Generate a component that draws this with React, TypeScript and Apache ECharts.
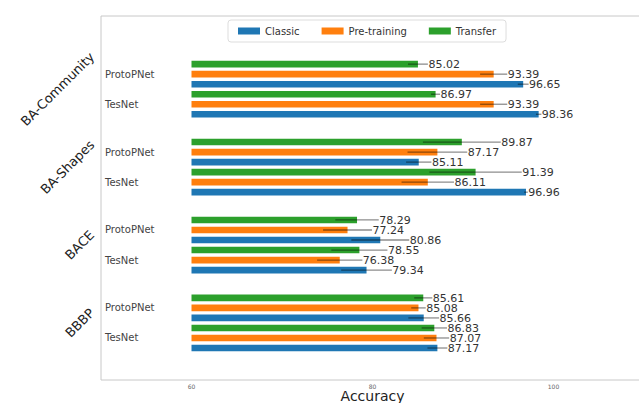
import React, { useEffect, useRef } from "react";
import * as echarts from "echarts";

const DATASETS = ["BA-Community", "BA-Shapes", "BACE", "BBBP"];
const MODELS = ["ProtoPNet", "TesNet"];
// ordered dataset x model: [BA-Community/ProtoPNet, BA-Community/TesNet, BA-Shapes/ProtoPNet, ...]
const CLASSIC = [96.65, 98.36, 85.11, 96.96, 80.86, 79.34, 85.66, 87.17];
const PRETRAIN = [93.39, 93.39, 87.17, 86.11, 77.24, 76.38, 85.08, 87.07];
const TRANSFER = [85.02, 86.97, 89.87, 91.39, 78.29, 78.55, 85.61, 86.83];
const CLASSIC_ERR = [0.6, 0.3, 1.4, 0.2, 3.2, 2.8, 1.7, 1.1];
const PRETRAIN_ERR = [1.5, 1.5, 3.3, 2.9, 2.7, 2.5, 0.8, 1.4];
const TRANSFER_ERR = [1.1, 0.5, 4.3, 5.1, 2.4, 3.1, 1.0, 1.4];
const X_TICKS = [60, 80, 100];
const SERIES_NAMES = ["Classic", "Pre-training", "Transfer"];

const FONT = '"DejaVu Sans", "Liberation Sans", sans-serif';
const COLORS = ["#1f77b4", "#ff7f0e", "#2ca02c"];

// layout (y units = one bar slot)
const BASE = 60;
const GROUP_START = 7.3;
const GROUP_STEP = 7.77;
const MODEL_HALF = 1.5;
const Y_MAX = 36.3;
const BAR_H = 0.66;

function groupCenter(d: number) {
  return GROUP_START + d * GROUP_STEP;
}
function modelCenter(k: number) {
  const d = Math.floor(k / 2);
  const m = k % 2;
  return groupCenter(d) + (m === 0 ? -MODEL_HALF : MODEL_HALF);
}

function measure(text: string, font: string) {
  const c = document.createElement("canvas");
  const ctx = c.getContext("2d")!;
  ctx.font = font;
  return ctx.measureText(text).width;
}

function makeBarSeries(name: string, vals: number[], errs: number[], offset: number, color: string) {
  return {
    type: "custom",
    name,
    silent: true,
    clip: false,
    itemStyle: { color },
    data: vals.map((v, k) => [v, modelCenter(k) + offset, errs[k]]),
    renderItem: (params: any, api: any) => {
      const v = api.value(0);
      const y = api.value(1);
      const e = api.value(2);
      const p0 = api.coord([BASE, y]);
      const p1 = api.coord([v, y]);
      const pl = api.coord([v - e, y]);
      const pr = api.coord([v + e, y]);
      const h = api.size([0, BAR_H])[1];
      return {
        type: "group",
        children: [
          {
            type: "rect",
            shape: { x: p0[0], y: p0[1] - h / 2, width: p1[0] - p0[0], height: h },
            style: { fill: color },
          },
          {
            type: "line",
            shape: { x1: pl[0], y1: p1[1], x2: pr[0], y2: p1[1] },
            style: { stroke: "rgba(0,0,0,0.45)", lineWidth: 1.3 },
          },
          {
            type: "text",
            x: pr[0] + 0.5,
            y: p1[1] + 0.5,
            style: {
              text: v.toFixed(2),
              fontSize: 11,
              fontFamily: FONT,
              fill: "#333",
              align: "left",
              verticalAlign: "middle",
            },
          },
        ],
      };
    },
  };
}

export default function App() {
  const ref = useRef<HTMLDivElement>(null);
  useEffect(() => {
    if (!ref.current) return;
    const chart = echarts.init(ref.current, null, { renderer: "svg" });
    const modelRows = CLASSIC.map((_, k) => [BASE, modelCenter(k)]);
    const dsRows = DATASETS.map((_, d) => [BASE, groupCenter(d)]);
    const dsFont = `13px ${FONT}`;
    const option: any = {
      animation: false,
      backgroundColor: "#fff",
      grid: {
        left: 101,
        top: 16,
        width: 543,
        height: 364,
        show: true,
        borderColor: "#c8c8c8",
        borderWidth: 1,
        backgroundColor: "transparent",
        containLabel: false,
        outerBoundsMode: "none",
      },
      legend: {
        data: SERIES_NAMES,
        left: 228,
        top: 20,
        padding: [6, 10],
        itemGap: 22,
        itemWidth: 22,
        itemHeight: 7,
        icon: "rect",
        borderColor: "#dddddd",
        borderWidth: 1,
        borderRadius: 3,
        backgroundColor: "rgba(255,255,255,0.8)",
        textStyle: { fontSize: 10, fontFamily: FONT, color: "#333" },
      },
      xAxis: {
        type: "value",
        min: 50,
        max: 110,
        interval: 10,
        name: "Accuracy",
        nameLocation: "middle",
        nameGap: 9,
        nameMoveOverlap: false,
        nameTextStyle: { fontSize: 14, fontFamily: FONT, color: "#222", verticalAlign: "top" },
        axisLine: { show: false },
        axisTick: { show: false },
        splitLine: { show: false },
        axisLabel: {
          fontSize: 6,
          fontFamily: FONT,
          color: "#666",
          margin: 3,
          formatter: (v: number) => (X_TICKS.indexOf(v) >= 0 ? String(v) : ""),
        },
      },
      yAxis: {
        type: "value",
        min: 0,
        max: Y_MAX,
        inverse: true,
        show: false,
      },
      series: [
        makeBarSeries(SERIES_NAMES[0], CLASSIC, CLASSIC_ERR, 1, COLORS[0]),
        makeBarSeries(SERIES_NAMES[1], PRETRAIN, PRETRAIN_ERR, 0, COLORS[1]),
        makeBarSeries(SERIES_NAMES[2], TRANSFER, TRANSFER_ERR, -1, COLORS[2]),
        {
          type: "custom",
          silent: true,
          clip: false,
          data: modelRows,
          renderItem: (params: any, api: any) => {
            const p = api.coord([api.value(0), api.value(1)]);
            const left = api.coord([50, api.value(1)]);
            return {
              type: "text",
              x: left[0] + 4,
              y: p[1],
              style: {
                text: MODELS[params.dataIndex % 2],
                fontSize: 10,
                fontFamily: FONT,
                fill: "#444",
                align: "left",
                verticalAlign: "middle",
              },
            };
          },
        },
        {
          type: "custom",
          silent: true,
          clip: false,
          data: dsRows,
          renderItem: (params: any, api: any) => {
            const left = api.coord([50, api.value(1)]);
            const text = DATASETS[params.dataIndex];
            const w = measure(text, dsFont);
            return {
              type: "text",
              x: left[0] - 9,
              y: left[1] - w * 0.354,
              rotation: Math.PI / 4,
              style: {
                text,
                fontSize: 13,
                fontFamily: FONT,
                fill: "#222",
                align: "right",
                verticalAlign: "middle",
              },
            };
          },
        },
      ],
    };
    chart.setOption(option);
    return () => chart.dispose();
  }, []);
  return (
    <div
      ref={ref}
      style={{ position: "absolute", left: 0, top: 0, width: 639, height: 403 }}
    />
  );
}
